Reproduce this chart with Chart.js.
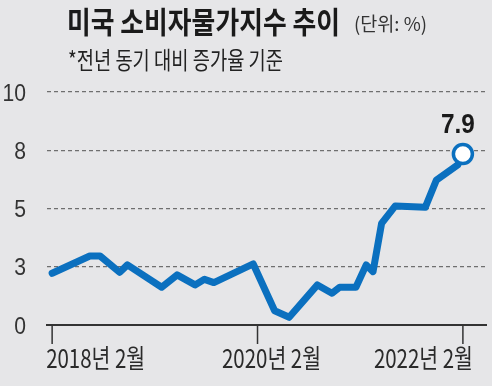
<!DOCTYPE html>
<html>
<head>
<meta charset="utf-8">
<script src="https://cdn.jsdelivr.net/npm/chart.js@4/dist/chart.umd.min.js"></script>
<style>
  html, body { margin: 0; padding: 0; background: #fff; }
  canvas { display: block; }
</style>
</head>
<body>
<canvas id="cpiChart" width="492" height="392"></canvas>
<script>
// months counted from Feb 2018 (axis steps are 2.5 drawn as 0/3/5/8/10)
const months = [0, 4.4, 5.6, 7.9, 8.8, 12.8, 14.6, 16.7, 17.8, 18.9, 23.5, 26, 27.7, 31, 32.7, 33.6, 35.5, 36.7, 37.5, 38.5, 40.1, 43.6, 44.9, 47.4, 48];
const cpi = [2.22, 2.96, 2.96, 2.26, 2.58, 1.62, 2.15, 1.72, 1.96, 1.82, 2.62, 0.61, 0.33, 1.72, 1.36, 1.62, 1.62, 2.58, 2.29, 4.36, 5.11, 5.05, 6.22, 6.87, 7.34];
const yTicks = [0, 2.5, 5, 7.5, 10];
const yTickLabels = ['0', '3', '5', '8', '10'];
const xTicks = [0, 24, 48];
const xTickLabels = ['2018년 2월', '2020년 2월', '2022년 2월'];
const lastLabel = '7.9';

const title = '미국 소비자물가지수 추이';
const unit = '(단위: %)';
const note = '*전년 동기 대비 증가율 기준';

const lineColor = '#0b70bf';
const lastIndex = cpi.length - 1;

// draw text squeezed horizontally (the original uses a condensed face)
function drawText(ctx, text, x, y, font, color, align, sx) {
  ctx.save();
  ctx.font = font;
  ctx.fillStyle = color;
  ctx.textAlign = align;
  ctx.textBaseline = 'alphabetic';
  ctx.translate(x, y);
  ctx.scale(sx, 1);
  ctx.fillText(text, 0, 0);
  ctx.restore();
}

function fitScale(ctx, text, font, width) {
  ctx.save();
  ctx.font = font;
  const w = ctx.measureText(text).width;
  ctx.restore();
  return width / w;
}

const decorations = {
  id: 'decorations',
  beforeDraw(chart) {
    const ctx = chart.ctx;
    ctx.save();
    ctx.fillStyle = '#fff';
    ctx.fillRect(0, 0, chart.width, chart.height);
    ctx.fillStyle = '#e6e6e8';
    ctx.fillRect(0, 0, chart.width, 386);
    ctx.restore();
  },
  afterDraw(chart) {
    const ctx = chart.ctx;
    const x = chart.scales.x;
    const y = chart.scales.y;
    const area = chart.chartArea;

    // header
    const tFont = 'bold 30px "Noto Sans CJK KR"';
    drawText(ctx, title, 67, 33, tFont, '#1a1a1a', 'left', fitScale(ctx, title, tFont, 273));
    const uFont = '19px "Noto Sans CJK KR"';
    drawText(ctx, unit, 354, 31, uFont, '#333', 'left', fitScale(ctx, unit, uFont, 73));
    const nFont = '24px "Noto Sans CJK KR"';
    drawText(ctx, note, 68, 69, nFont, '#222', 'left', fitScale(ctx, note, nFont, 215));

    // y tick labels
    yTicks.forEach((v, i) => {
      drawText(ctx, yTickLabels[i], 26, y.getPixelForValue(v) + 8.5, '24px "Liberation Sans"', '#333', 'right', 0.88);
    });

    // x tick marks + labels
    const xFont = '26px "Noto Sans CJK KR"';
    const aligns = ['left', 'center', 'right'];
    const shifts = [-6, 14, 10];
    xTicks.forEach((v, i) => {
      const px = x.getPixelForValue(v);
      ctx.save();
      ctx.strokeStyle = '#333';
      ctx.lineWidth = 1.5;
      ctx.beginPath();
      ctx.moveTo(px, area.bottom);
      ctx.lineTo(px, area.bottom + 19);
      ctx.stroke();
      ctx.restore();
      const sx = fitScale(ctx, xTickLabels[i], xFont, 99);
      drawText(ctx, xTickLabels[i], px + shifts[i], 368, xFont, '#2a2a2a', aligns[i], sx);
    });

    // value label over the last point
    const pt = chart.getDatasetMeta(0).data[lastIndex];
    drawText(ctx, lastLabel, pt.x - 5, pt.y - 21, 'bold 28px "Liberation Sans"', '#1a1a1a', 'center', 0.87);
  }
};

const ctx = document.getElementById('cpiChart').getContext('2d');
const cpiChart = new Chart(ctx, {
  type: 'line',
  data: {
    datasets: [{
      data: months.map((m, i) => ({ x: m, y: cpi[i] })),
      borderColor: lineColor,
      borderWidth: 7,
      borderJoinStyle: 'round',
      borderCapStyle: 'round',
      tension: 0,
      clip: false,
      pointRadius: c => (c.dataIndex === lastIndex ? 9.5 : 0),
      pointBorderWidth: 3.5,
      pointBorderColor: lineColor,
      pointBackgroundColor: '#fff'
    }]
  },
  options: {
    responsive: false,
    animation: false,
    events: [],
    layout: { autoPadding: false, padding: { left: 47, right: 6, top: 92, bottom: 67 } },
    plugins: {
      legend: { display: false },
      tooltip: { enabled: false }
    },
    scales: {
      x: {
        type: 'linear',
        min: -0.6,
        max: 50.7,
        ticks: { display: false },
        grid: { display: false, drawTicks: false },
        border: { display: true, color: '#333', width: 2 }
      },
      y: {
        min: 0,
        max: 10,
        afterBuildTicks: scale => { scale.ticks = yTicks.map(v => ({ value: v })); },
        ticks: { display: false },
        grid: {
          drawTicks: false,
          lineWidth: 1.2,
          color: c => (c.tick && c.tick.value === 0 ? 'rgba(0,0,0,0)' : '#6f6f6f')
        },
        border: { display: false, dash: [4, 3] }
      }
    }
  },
  plugins: [decorations]
});
</script>
</body>
</html>
